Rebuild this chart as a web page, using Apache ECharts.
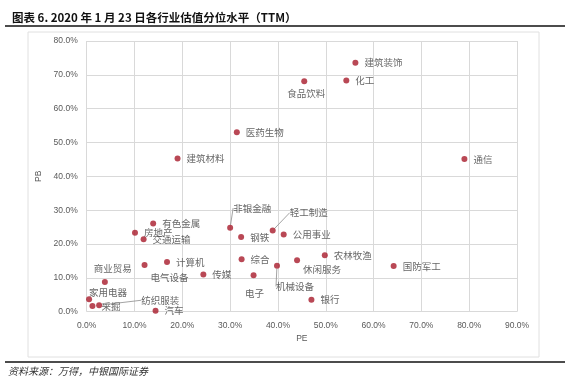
<!DOCTYPE html>
<html>
<head>
<meta charset="utf-8">
<script src="https://cdn.jsdelivr.net/npm/echarts@6/dist/echarts.min.js"></script>
<style>
html,body{margin:0;padding:0;background:#fff;}
#c{width:565px;height:384px;}
</style>
</head>
<body>
<div id="c"></div>
<script>
// Data (values in %)
var industries = ['建筑装饰','化工','食品饮料','医药生物','建筑材料','通信','有色金属','房地产','交通运输','计算机','电气设备','传媒','商业贸易','家用电器','采掘','纺织服装','汽车','非银金融','钢铁','轻工制造','公用事业','综合','休闲服务','农林牧渔','机械设备','电子','银行','国防军工'];
var peValues = [56.2, 54.3, 45.5, 31.4, 19.0, 79.0, 13.9, 10.1, 11.9, 16.8, 12.1, 24.4, 3.8, 0.5, 1.2, 2.6, 14.4, 30.0, 32.3, 38.9, 41.2, 32.4, 44.0, 49.8, 39.8, 34.9, 47.0, 64.2];
var pbValues = [73.6, 68.3, 68.1, 53.0, 45.3, 45.1, 26.1, 23.3, 21.4, 14.7, 13.8, 11.0, 8.8, 3.7, 1.7, 1.9, 0.3, 24.8, 22.1, 24.0, 22.8, 15.5, 15.2, 16.7, 13.6, 10.8, 3.5, 13.5];
var xTicks = [0,10,20,30,40,50,60,70,80,90];
var yTicks = [0,10,20,30,40,50,60,70,80];

// Label placement (style): where each label sits relative to its dot
var labelMove = {
  '食品饮料': {pos:'bottom', dx:2, dy:-2},
  '电气设备': {pos:'bottom', dx:25, dy:-1},
  '商业贸易': {pos:'top', dx:8, dy:0},
  '家用电器': {pos:'top', dx:19, dy:7},
  '采掘': {pos:'right', dx:0, dy:0},
  '纺织服装': {pos:'right', dx:33, dy:-5, line:true},
  '非银金融': {pos:'top', dx:22, dy:-6, line:true},
  '轻工制造': {pos:'top', dx:36, dy:-4, line:true},
  '休闲服务': {pos:'bottom', dx:25, dy:-5},
  '机械设备': {pos:'bottom', dx:18, dy:7, line:true},
  '电子': {pos:'bottom', dx:1, dy:4}
};

var data = industries.map(function(n,i){
  var m = labelMove[n];
  var item = {name:n, value:[peValues[i], pbValues[i]]};
  if (m) {
    item.label = {position: m.pos};
    if (m.line) item.labelLine = {show:true};
  }
  return item;
});

var chart = echarts.init(document.getElementById('c'), null, {renderer:'canvas'});
var pct = function(v){ return v.toFixed(1) + '%'; };
chart.setOption({
  animation:false,
  backgroundColor:'#fff',
  title:{
    text:'图表 6. 2020 年 1 月 23 日各行业估值分位水平（TTM）',
    left:7, top:7,
    textStyle:{fontFamily:'Noto Sans CJK SC', fontWeight:'bold', fontSize:11.5, color:'#111'}
  },
  graphic:[
    {type:'line', shape:{x1:5,y1:26,x2:565,y2:26}, style:{stroke:'#111', lineWidth:1.5}},
    {type:'rect', shape:{x:28,y:32,width:511,height:325}, style:{fill:'none', stroke:'#e0e0e0', lineWidth:1}},
    {type:'line', shape:{x1:5,y1:362,x2:565,y2:362}, style:{stroke:'#111', lineWidth:1.5}},
    {type:'text', left:8, top:366, style:{text:'资料来源：万得，中银国际证券', fontFamily:'Noto Sans CJK SC', fontStyle:'italic', fontSize:10, fill:'#333'}}
  ],
  grid:{left:86.7, right:48, top:41, bottom:72.3, containLabel:false},
  xAxis:{
    type:'value', min:0, max:90, interval:10,
    name:'PE', nameLocation:'middle', nameGap:22,
    nameTextStyle:{fontFamily:'Liberation Sans', fontSize:8.5, color:'#595959'},
    axisLine:{show:false}, axisTick:{show:false},
    splitLine:{show:true, lineStyle:{color:'#d9d9d9', width:1}},
    axisLabel:{formatter:pct, fontFamily:'Liberation Sans', fontSize:8.5, color:'#595959', margin:9}
  },
  yAxis:{
    type:'value', min:0, max:80, interval:10,
    name:'PB', nameLocation:'middle', nameGap:30,
    nameTextStyle:{fontFamily:'Liberation Sans', fontSize:8.5, color:'#595959'},
    axisLine:{show:false}, axisTick:{show:false},
    splitLine:{show:true, lineStyle:{color:'#d9d9d9', width:1}},
    axisLabel:{formatter:pct, fontFamily:'Liberation Sans', fontSize:8.5, color:'#595959', margin:9}
  },
  series:[{
    type:'scatter',
    symbolSize:6,
    itemStyle:{color:'#A81A2A'},
    data:data,
    label:{
      show:true, position:'right', distance:6,
      formatter:'{b}',
      fontFamily:'Noto Sans CJK SC', fontSize:9.5, color:'#404040'
    },
    labelLine:{show:false, lineStyle:{color:'#8c8c8c', width:0.8}, length2:0},
    labelLayout:function(p){
      var n = industries[p.dataIndex];
      var m = labelMove[n];
      if (!m) return {};
      return {dx:m.dx, dy:m.dy};
    }
  }]
});
</script>
</body>
</html>
